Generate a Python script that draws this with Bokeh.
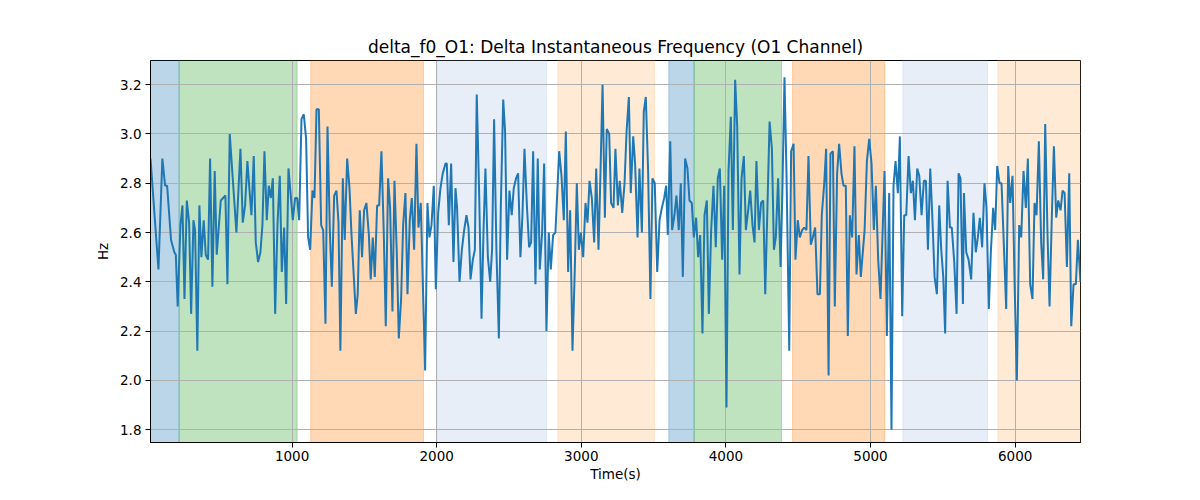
from bokeh.plotting import figure
from bokeh.models import ColumnDataSource, FixedTicker, NumeralTickFormatter, Range1d
from bokeh.embed import file_html
from bokeh.resources import INLINE

FONT = "DejaVu Sans"
LINE_COLOUR = "#1f77b4"

# shaded segments (seconds)
band_start = [0, 219, 1129, 2001, 2838, 3605, 3780, 4461, 5224, 5881]
band_end = [219, 1035, 1909, 2760, 3506, 3780, 4385, 5099, 5809, 6500]
band_colour = [
    "#1f77b4", "#2ca02c", "#ff7f0e", "#aec7e8", "#ffbb78",
    "#1f77b4", "#2ca02c", "#ff7f0e", "#aec7e8", "#ffbb78",
]

x_ticks = [1000, 2000, 3000, 4000, 5000, 6000]
y_ticks = [1.8, 2.0, 2.2, 2.4, 2.6, 2.8, 3.0, 3.2]

times = [
    21, 76, 103, 122, 136, 163, 186, 196, 209, 228, 242, 256, 272, 288, 302, 318, 329, 345, 359, 373,
    389, 403, 419, 433, 449, 465, 479, 507, 523, 539, 553, 569, 592, 615, 643, 659, 675, 691, 707,
    719, 735, 749, 765, 781, 795, 809, 825, 839, 853, 867, 883, 899, 915, 929, 945, 959, 975, 991, 1005,
    1021, 1035, 1049, 1065, 1081, 1097, 1111, 1125, 1141, 1155, 1169, 1185, 1201, 1215, 1231, 1245, 1261,
    1275, 1291, 1307, 1321, 1334, 1351, 1364, 1381, 1397, 1411,
    1441, 1454, 1468, 1484, 1498, 1514, 1531, 1544, 1558, 1572, 1588, 1602, 1618, 1634, 1648, 1664, 1678,
    1694, 1708, 1724, 1738, 1754, 1768, 1784, 1798, 1814, 1828, 1844, 1860, 1874, 1890, 1904, 1920, 1936,
    1950, 1964, 1980, 1994, 2010, 2026, 2042, 2061, 2070, 2084, 2100, 2116,
    2130, 2141, 2158, 2174, 2190, 2206, 2220, 2234, 2250, 2264, 2277, 2294, 2310, 2324, 2337, 2354, 2370,
    2383, 2397, 2413, 2430, 2443, 2460, 2473, 2487, 2503, 2519, 2533, 2549, 2563, 2579, 2593, 2607, 2623,
    2639, 2653, 2667, 2683, 2699, 2713, 2729, 2743, 2759, 2775, 2789, 2805, 2821,
    2847, 2863, 2879, 2893, 2909, 2923, 2939, 2955, 2969, 2983, 2997, 3013, 3029, 3043, 3057, 3073, 3089,
    3103, 3119, 3133, 3147, 3163, 3176, 3193, 3206, 3223, 3236, 3253, 3266, 3283, 3299, 3313, 3329, 3342,
    3359, 3372, 3389, 3402, 3419, 3432, 3446, 3462, 3478, 3492, 3508, 3525,
    3541, 3557, 3573, 3587, 3598, 3615, 3628, 3644, 3658, 3674, 3688, 3702, 3718, 3734, 3748, 3764, 3778,
    3794, 3808, 3822, 3838, 3852, 3868, 3882, 3898, 3914, 3930, 3944, 3958, 3974, 3988, 4004, 4018, 4034,
    4048, 4064, 4078, 4094, 4108, 4124, 4138, 4154, 4168, 4184, 4198, 4211, 4228, 4243,
    4258, 4272, 4302, 4318, 4332, 4345, 4361, 4378, 4391, 4405, 4419, 4438, 4451, 4468, 4481, 4497, 4511,
    4527, 4541, 4557, 4571, 4587, 4601, 4617, 4633, 4650, 4663, 4680, 4693, 4710, 4723, 4740, 4753, 4769,
    4783, 4799, 4813, 4829, 4843, 4857, 4873, 4889, 4903, 4919, 4933,
    4959, 4975, 4991, 5007, 5023, 5037, 5053, 5069, 5083, 5097, 5113, 5129, 5145, 5159, 5173, 5189, 5203,
    5219, 5233, 5247, 5263, 5279, 5293, 5307, 5323, 5337, 5353, 5369, 5383, 5397, 5413, 5429, 5443, 5459,
    5475, 5489, 5503, 5516, 5533, 5549, 5562, 5579, 5595, 5609, 5622, 5639,
    5646, 5662, 5678, 5696, 5712, 5728, 5742, 5756, 5772, 5788, 5802, 5818, 5832, 5848, 5862, 5876, 5892,
    5906, 5922, 5938, 5952, 5966, 5982, 5996, 6012, 6028, 6042, 6058, 6074, 6088, 6104, 6120, 6134, 6148,
    6164, 6180, 6194, 6208, 6224, 6238, 6254, 6268, 6284, 6298, 6314, 6328, 6342, 6358, 6374, 6388, 6404,
    6420, 6434, 6452,
]

hz = [
    2.90, 2.45, 2.90, 2.79, 2.79, 2.57, 2.52, 2.51, 2.30, 2.63, 2.71, 2.33, 2.73, 2.64, 2.27, 2.65, 2.61, 2.12, 2.71, 2.50,
    2.65, 2.51, 2.49, 2.90, 2.38, 2.85, 2.51, 2.73, 2.74, 2.75, 2.39, 3.00, 2.80, 2.60, 2.94, 2.64, 2.71, 2.89, 2.76,
    2.67, 2.91, 2.56, 2.48, 2.52, 2.63, 2.93, 2.65, 2.79, 2.74, 2.82, 2.27, 2.63, 2.83, 2.44, 2.62, 2.31, 2.86, 2.75, 2.65,
    2.74, 2.74, 2.65, 3.06, 3.08, 2.98, 2.58, 2.53, 2.77, 2.74, 3.10, 3.10, 2.63, 2.61, 2.23, 3.03, 2.61,
    2.38, 2.75, 2.77, 2.64, 2.12, 2.82, 2.57, 2.90, 2.78, 2.59,
    2.27, 2.35, 2.69, 2.50, 2.69, 2.72, 2.59, 2.41, 2.58, 2.42, 2.71, 2.71, 2.93, 2.60, 2.22, 2.82, 2.70,
    2.28, 2.81, 2.52, 2.17, 2.33, 2.63, 2.76, 2.35, 2.65, 2.74, 2.53, 2.96, 2.62, 2.72, 2.40, 2.04, 2.72,
    2.58, 2.63, 2.79, 2.37, 2.68, 2.78, 2.84, 2.88, 2.88, 2.63, 2.88, 2.48,
    2.78, 2.70, 2.40, 2.53, 2.61, 2.67, 2.62, 2.41, 2.49, 2.53, 3.16, 2.75, 2.25, 2.61, 2.86, 2.50, 2.40,
    2.53, 3.06, 2.53, 2.17, 2.69, 3.14, 3.01, 2.49, 2.77, 2.67, 2.78, 2.82, 2.84, 2.50, 2.67, 2.94, 2.72,
    2.54, 2.56, 2.93, 2.39, 2.90, 2.45, 2.60, 2.88, 2.20, 2.60, 2.45, 2.59, 2.60,
    2.93, 2.83, 2.65, 3.01, 2.44, 2.69, 2.12, 2.45, 2.80, 2.53, 2.60, 2.50, 2.72, 2.64, 2.81, 2.74, 2.56,
    2.86, 2.53, 2.85, 3.20, 2.66, 3.02, 3.00, 2.72, 2.70, 2.94, 2.71, 2.81, 2.68, 2.80, 3.01, 3.15, 2.76,
    2.99, 2.88, 2.58, 2.86, 2.60, 3.09, 3.15, 2.85, 2.33, 2.82, 2.80, 2.44,
    2.65, 2.70, 2.74, 2.79, 2.59, 2.97, 2.61, 2.67, 2.75, 2.61, 2.80, 2.42, 2.90, 2.86, 2.73, 2.72, 2.58,
    2.66, 2.50, 2.59, 2.19, 2.67, 2.73, 2.27, 2.61, 2.79, 2.54, 2.82, 2.86, 2.49, 2.79, 1.89, 2.85, 3.07,
    2.61, 3.22, 3.03, 2.43, 2.82, 2.91, 2.61, 2.69, 2.77, 2.63, 2.56, 2.89, 2.61, 2.72,
    2.73, 2.35, 3.05, 2.94, 2.53, 2.58, 2.82, 2.46, 2.78, 3.23, 2.84, 2.12, 2.93, 2.96, 2.49, 2.65, 2.58,
    2.61, 2.62, 2.61, 2.91, 2.55, 2.58, 2.62, 2.35, 2.35, 2.67, 2.80, 2.94, 2.02, 2.92, 2.93, 2.30, 2.84,
    2.96, 2.84, 2.79, 2.79, 2.18, 2.67, 2.58, 2.95, 2.43, 2.59, 2.42,
    2.61, 2.89, 2.98, 2.88, 2.61, 2.79, 2.49, 2.33, 2.59, 2.85, 2.18, 2.76, 1.80, 2.79, 2.89, 2.76, 2.99,
    2.26, 2.67, 2.67, 2.91, 2.76, 2.81, 2.65, 2.86, 2.83, 2.67, 2.81, 2.81, 2.53, 2.86, 2.64, 2.42, 2.35,
    2.71, 2.53, 2.42, 2.19, 2.81, 2.62, 2.62, 2.48, 2.27, 2.84, 2.82, 2.31,
    2.76, 2.52, 2.49, 2.41, 2.68, 2.52, 2.58, 2.66, 2.54, 2.80, 2.70, 2.29, 2.52, 2.70, 2.61, 2.87, 2.80,
    2.80, 2.55, 2.29, 2.87, 2.72, 2.83, 2.40, 2.00, 2.63, 2.58, 2.85, 2.70, 2.90, 2.39, 2.33, 2.72, 2.67,
    2.97, 2.56, 2.41, 3.04, 2.59, 2.30, 2.67, 2.95, 2.66, 2.73, 2.69, 2.77, 2.76, 2.46, 2.84, 2.22, 2.39,
    2.39, 2.57, 2.40,
]

assert len(times) == len(hz), (len(times), len(hz))


def make_figure():
    p = figure(
        width=1184,
        height=484,
        x_range=Range1d(times[0], times[-1]),
        y_range=Range1d(1.748, 3.298),
        toolbar_location=None,
        tools="",
        output_backend="svg",
        min_border_left=150,
        min_border_right=104,
        min_border_top=60,
        min_border_bottom=39,
    )
    p.title.text = "delta_f0_O1: Delta Instantaneous Frequency (O1 Channel)"
    p.title.align = "center"
    p.title.text_font = FONT
    p.title.text_font_size = "17px"
    p.title.text_font_style = "normal"
    p.title.text_color = "black"
    p.title.standoff = 7

    p.outline_line_color = "black"
    p.outline_line_width = 1
    p.outline_line_alpha = 1

    for axis in (p.xaxis, p.yaxis):
        axis.major_label_text_font = FONT
        axis.major_label_text_font_size = "13.5px"
        axis.major_label_text_color = "black"
        axis.axis_label_text_font = FONT
        axis.axis_label_text_font_size = "13.5px"
        axis.axis_label_text_font_style = "normal"
        axis.axis_label_text_color = "black"
        axis.axis_line_color = "black"
        axis.major_tick_line_color = "black"
        axis.major_tick_out = 5
        axis.major_tick_in = 0
        axis.minor_tick_line_color = None
        axis.major_label_standoff = 4

    p.xaxis.axis_label = "Time(s)"
    p.yaxis.axis_label = "Hz"
    p.xaxis.major_label_standoff = 3
    p.xaxis.axis_label_standoff = 2
    p.yaxis.axis_label_standoff = 6
    p.xaxis.ticker = FixedTicker(ticks=x_ticks)
    p.yaxis.ticker = FixedTicker(ticks=y_ticks)
    p.yaxis.formatter = NumeralTickFormatter(format="0.0")

    p.grid.grid_line_color = "#b0b0b0"
    p.grid.grid_line_width = 1
    return p


p = make_figure()

bands = ColumnDataSource(dict(left=band_start, right=band_end, colour=band_colour))
p.quad(
    source=bands,
    left="left",
    right="right",
    bottom=1.0,
    top=4.0,
    fill_color="colour",
    fill_alpha=0.3,
    line_color="colour",
    line_alpha=0.3,
    line_width=1,
    level="underlay",
)

p.line(x=times, y=hz, line_color=LINE_COLOUR, line_width=2)

open("out.html", "w").write(file_html(p, INLINE))
